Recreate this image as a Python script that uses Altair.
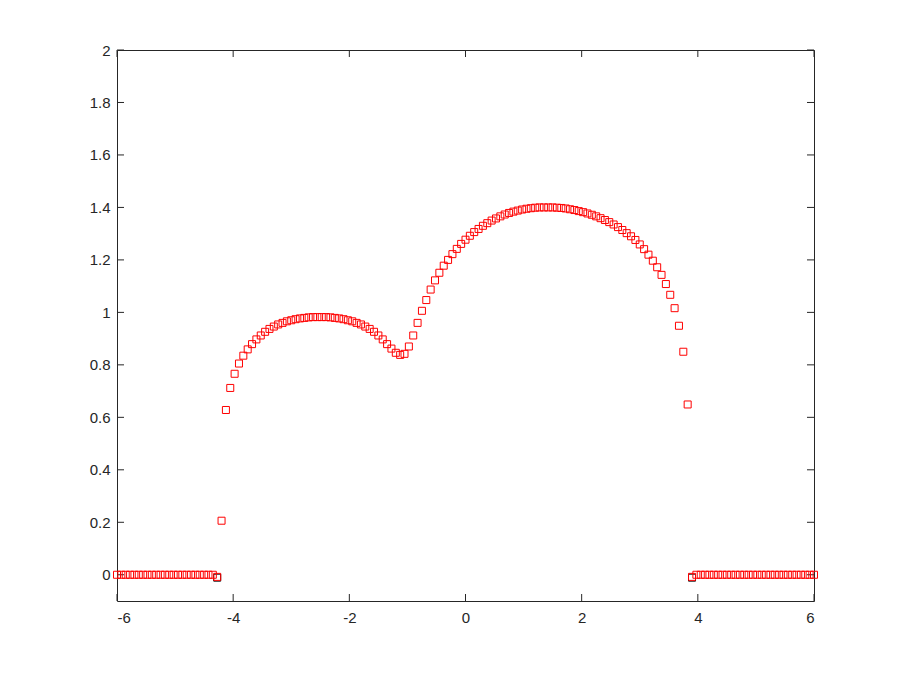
import altair as alt
import pandas as pd

# 161 evenly spaced grid points from -6 to 6 (step 0.075)
n_points = 161
x_vals = [round(-6 + 0.075 * i, 4) for i in range(n_points)]

left_flat = [0.0, 0.0, 0.0, 0.0, 0.0, 0.0, 0.0, 0.0, 0.0, 0.0, 0.0, 0.0,
             0.0, 0.0, 0.0, 0.0, 0.0, 0.0, 0.0, 0.0, 0.0, 0.0, 0.0]
left_edge_red = [-0.008]
left_edge_black = [-0.011]
bumps = [0.206, 0.628, 0.712, 0.766, 0.805, 0.835, 0.859, 0.879, 0.897, 0.912,
         0.926, 0.937, 0.946, 0.954, 0.960, 0.966, 0.970, 0.974, 0.977, 0.979,
         0.981, 0.982, 0.982, 0.982, 0.982, 0.981, 0.979, 0.977, 0.974, 0.970,
         0.966, 0.960, 0.954, 0.946, 0.937, 0.926, 0.912, 0.897, 0.879, 0.862,
         0.846, 0.838, 0.842, 0.870, 0.912, 0.960, 1.006, 1.047, 1.087, 1.122,
         1.151, 1.178, 1.200, 1.222, 1.242, 1.261, 1.277, 1.292, 1.306, 1.318,
         1.330, 1.340, 1.350, 1.358, 1.366, 1.373, 1.379, 1.384, 1.388, 1.392,
         1.395, 1.397, 1.399, 1.400, 1.400, 1.400, 1.400, 1.399, 1.398, 1.396,
         1.393, 1.390, 1.386, 1.382, 1.377, 1.372, 1.366, 1.359, 1.352, 1.344,
         1.335, 1.325, 1.314, 1.302, 1.290, 1.276, 1.259, 1.241, 1.220, 1.197,
         1.172, 1.143, 1.108, 1.067, 1.016, 0.949, 0.850, 0.649]
right_edge_red = [-0.008]
right_edge_black = [-0.011]
right_flat = [0.0, 0.0, 0.0, 0.0, 0.0, 0.0, 0.0, 0.0, 0.0, 0.0, 0.0, 0.0, 0.0, 0.0,
              0.0, 0.0, 0.0, 0.0, 0.0, 0.0, 0.0, 0.0, 0.0, 0.0, 0.0, 0.0, 0.0, 0.0]

y_red = left_flat + left_edge_red + bumps + right_edge_red + right_flat
y_black = left_flat + left_edge_black + bumps + right_edge_black + right_flat

x_ticks = [-6, -4, -2, 0, 2, 4, 6]
y_ticks = [0, 0.2, 0.4, 0.6, 0.8, 1.0, 1.2, 1.4, 1.6, 1.8, 2.0]

W, H = 697, 551
AX = "#262626"

df_red = pd.DataFrame({"x": x_vals, "y": y_red})
# the black series lies under the red one; only where it differs does it show
df_black = pd.DataFrame({"x": x_vals, "y": y_black, "diff": [b != r for b, r in zip(y_black, y_red)]})
df_black = df_black[df_black["diff"]]

xscale = alt.Scale(domain=[-6, 6], nice=False, zero=False)
yscale = alt.Scale(domain=[-0.1, 2], nice=False, zero=False)

label_expr = "datum.value < 0 ? '-' + format(-datum.value, '~g') : format(datum.value, '~g')"

xaxis = alt.Axis(values=x_ticks, labelExpr=label_expr, ticks=False, domain=False, grid=False,
                 labelPadding=9, labelFontSize=15, labelColor=AX, labelFont="Liberation Sans",
                 title=None)
yaxis = alt.Axis(values=y_ticks, labelExpr=label_expr, ticks=False, domain=False, grid=False,
                 labelPadding=7, labelFontSize=15, labelColor=AX, labelFont="Liberation Sans",
                 title=None)

black_pts = alt.Chart(df_black).mark_point(shape="square", filled=False, size=49, strokeWidth=1,
                                           opacity=1, color="#000000").encode(
    x=alt.X("x:Q", scale=xscale, axis=xaxis),
    y=alt.Y("y:Q", scale=yscale, axis=yaxis),
)
red_pts = alt.Chart(df_red).mark_point(shape="square", filled=False, size=49, strokeWidth=1,
                                       opacity=1, color="#ff0000").encode(
    x=alt.X("x:Q", scale=xscale, axis=xaxis),
    y=alt.Y("y:Q", scale=yscale, axis=yaxis),
)

xt = pd.DataFrame({"t": x_ticks})
yt = pd.DataFrame({"t": y_ticks})

tick_style = dict(color=AX, strokeWidth=1)
xb = alt.Chart(xt).mark_rule(**tick_style).encode(x=alt.X("t:Q", scale=xscale), y=alt.value(H), y2=alt.value(H - 7))
xtop = alt.Chart(xt).mark_rule(**tick_style).encode(x=alt.X("t:Q", scale=xscale), y=alt.value(0), y2=alt.value(7))
yl = alt.Chart(yt).mark_rule(**tick_style).encode(y=alt.Y("t:Q", scale=yscale), x=alt.value(0), x2=alt.value(7))
yr = alt.Chart(yt).mark_rule(**tick_style).encode(y=alt.Y("t:Q", scale=yscale), x=alt.value(W), x2=alt.value(W - 7))

chart = alt.layer(xb, xtop, yl, yr, black_pts, red_pts).properties(
    width=W, height=H,
    autosize=alt.AutoSizeParams(type="none"),
    padding={"left": 109, "top": 42, "right": 78, "bottom": 66},
).configure(background="white").configure_view(stroke=AX, strokeWidth=1)

chart.save("out.html", embed_options={"renderer": "svg", "actions": False})
